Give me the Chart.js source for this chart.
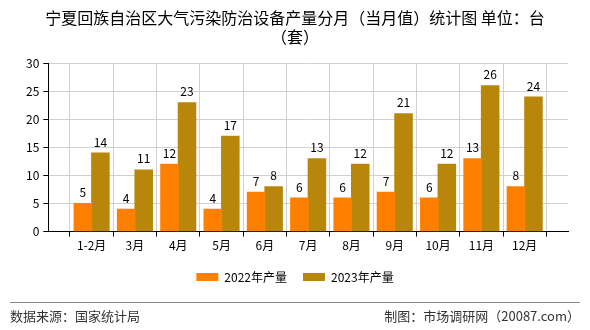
<!DOCTYPE html>
<html>
<head>
<meta charset="utf-8">
<script src="https://cdn.jsdelivr.net/npm/chart.js@4/dist/chart.umd.min.js"></script>
<style>
  html, body { margin: 0; padding: 0; background: #fff; }
  #wrap { width: 590px; height: 330px; position: relative; }
</style>
</head>
<body>
<div id="wrap"><canvas id="barChart" width="590" height="330"></canvas></div>
<script>
const months = ["1-2月","3月","4月","5月","6月","7月","8月","9月","10月","11月","12月"];
const output2022 = [5, 4, 12, 4, 7, 6, 6, 7, 6, 13, 8];
const output2023 = [14, 11, 23, 17, 8, 13, 12, 21, 12, 26, 24];
const yTicks = [0, 5, 10, 15, 20, 25, 30];

const FONT = '"Noto Sans CJK SC", "DejaVu Sans", sans-serif';

// blank slot on each side so the first and last months sit one step in from the axes
const labels = [""].concat(months, [""]);
const pad = arr => [null].concat(arr, [null]);

// value above each bar
const valueLabels = {
  id: 'valueLabels',
  afterDatasetsDraw(chart) {
    const ctx = chart.ctx;
    ctx.save();
    ctx.font = '12px ' + FONT;
    ctx.fillStyle = '#000';
    ctx.textAlign = 'center';
    ctx.textBaseline = 'bottom';
    chart.data.datasets.forEach((ds, i) => {
      chart.getDatasetMeta(i).data.forEach((bar, j) => {
        const v = ds.data[j];
        if (v === null || v === undefined) return;
        ctx.fillText(String(v), bar.x, bar.y - 5);
      });
    });
    ctx.restore();
  }
};

// source line at the bottom
const footer = {
  id: 'footer',
  afterDraw(chart) {
    const ctx = chart.ctx;
    ctx.save();
    ctx.strokeStyle = '#888';
    ctx.lineWidth = 1;
    ctx.beginPath();
    ctx.moveTo(10, 302.5);
    ctx.lineTo(580, 302.5);
    ctx.stroke();
    ctx.font = '13px ' + FONT;
    ctx.fillStyle = '#333';
    ctx.textBaseline = 'middle';
    ctx.textAlign = 'left';
    ctx.fillText('数据来源：国家统计局', 10, 316);
    ctx.textAlign = 'right';
    ctx.fillText('制图：市场调研网（20087.com）', 580, 316);
    ctx.restore();
  }
};

new Chart(document.getElementById("barChart"), {
  type: 'bar',
  data: {
    labels: labels,
    datasets: [
      {
        label: "2022年产量",
        data: pad(output2022),
        backgroundColor: "#FF8000",
        categoryPercentage: 0.81,
        barPercentage: 1.0,
        inflateAmount: 0.5
      },
      {
        label: "2023年产量",
        data: pad(output2023),
        backgroundColor: "#B8860B",
        categoryPercentage: 0.81,
        barPercentage: 1.0,
        inflateAmount: 0.5
      }
    ]
  },
  options: {
    responsive: false,
    animation: false,
    layout: { padding: { top: 0, left: 22, right: 22, bottom: 37 } },
    plugins: {
      title: {
        display: true,
        text: ["宁夏回族自治区大气污染防治设备产量分月（当月值）统计图 单位：台", "（套）"],
        color: '#000',
        font: { family: FONT, size: 16, weight: 'normal', lineHeight: 1.2 },
        padding: { top: 8, bottom: 17 }
      },
      legend: {
        position: 'bottom',
        labels: {
          boxWidth: 22,
          boxHeight: 8,
          padding: 16,
          color: '#000',
          font: { family: FONT, size: 12 }
        }
      },
      tooltip: { enabled: false }
    },
    scales: {
      x: {
        offset: false,
        grid: { color: '#d0d0d0', tickColor: '#000', tickLength: 5, drawOnChartArea: true },
        border: { color: '#000' },
        ticks: { color: '#000', font: { family: FONT, size: 12 }, maxRotation: 0, autoSkip: false, padding: 2 }
      },
      y: {
        min: 0,
        max: 30,
        afterBuildTicks(axis) { axis.ticks = yTicks.map(v => ({ value: v })); },
        grid: { color: '#d0d0d0', tickColor: '#000', tickLength: 5 },
        border: { color: '#000' },
        ticks: { color: '#000', font: { family: FONT, size: 12 }, padding: 4 }
      }
    }
  },
  plugins: [valueLabels, footer]
});
</script>
</body>
</html>
